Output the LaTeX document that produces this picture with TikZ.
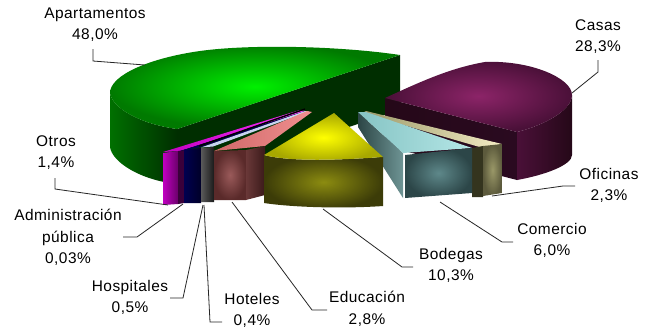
\documentclass[tikz,border=0pt]{standalone}
\usepackage{fontspec}
\setmainfont{Liberation Sans}[LetterSpace=3]
\begin{document}
\begin{tikzpicture}[x=1bp,y=-1bp,
  lbl/.style={font=\fontsize{15.5}{21.5}\selectfont, align=center, inner sep=0pt, text=black},
  lead/.style={line width=0.8bp, draw=black!85},
]
\definecolor{gA}{HTML}{00F000}\definecolor{gB}{HTML}{007A00}
\definecolor{gC}{HTML}{004A00}\definecolor{gD}{HTML}{002E00}\definecolor{gE}{HTML}{007000}
\definecolor{pA}{HTML}{8C2468}\definecolor{pB}{HTML}{4A1038}\definecolor{pC}{HTML}{2A0A20}\definecolor{pD}{HTML}{250818}
\definecolor{yA}{HTML}{FFFF00}\definecolor{yB}{HTML}{A8A800}\definecolor{yC}{HTML}{8C8C10}\definecolor{yD}{HTML}{3C3C08}
\definecolor{tA}{HTML}{2C4646}\definecolor{tB}{HTML}{6E9494}\definecolor{tC}{HTML}{86C4C4}\definecolor{tD}{HTML}{B4E6E6}
\definecolor{tE}{HTML}{5E888A}\definecolor{tF}{HTML}{2C4648}
\definecolor{cA}{HTML}{F4ECC4}\definecolor{cB}{HTML}{9A9868}\definecolor{cC}{HTML}{5C5A3C}\definecolor{cD}{HTML}{34341E}
\definecolor{mA}{HTML}{FF30FF}\definecolor{mB}{HTML}{C000C0}\definecolor{mC}{HTML}{6A006A}\definecolor{mD}{HTML}{3A003A}
\definecolor{nA}{HTML}{000050}\definecolor{nB}{HTML}{000028}
\definecolor{kA}{HTML}{5A5A5A}\definecolor{kB}{HTML}{1A1A1A}\definecolor{kC}{HTML}{C8D4F0}
\definecolor{rA}{HTML}{F09090}\definecolor{rB}{HTML}{D06868}\definecolor{rC}{HTML}{9A5A5A}\definecolor{rD}{HTML}{5A2A2A}
\definecolor{rE}{HTML}{6A3838}\definecolor{rF}{HTML}{3A1A1A}
\useasboundingbox[fill=white] (0,0) rectangle (647,331);

% ---------- Apartamentos (green) ----------
\shade[left color=gD, middle color=gC, right color=gD] (177,129) -- (400,55) -- (400,110) -- (177,184) -- cycle;
\shade[left color=gE, right color=gD] (110,93) .. controls (112,108) and (140,124) .. (177,129) -- (177,184) .. controls (140,180) and (112,162) .. (110,147) -- cycle;
\shade[inner color=gA, outer color=gB] (400,55) .. controls (340,46) and (250,44) .. (200,51) .. controls (150,58) and (110,75) .. (110,93) .. controls (112,108) and (140,124) .. (177,129) -- cycle;

% ---------- Casas (purple) ----------
\shade[left color=pD, right color=pC] (385,98) -- (517,132) -- (517,180) -- (385,146) -- cycle;
\shade[left color=pB, right color=pD] (517,132) .. controls (545,125) and (572,110) .. (572,95) -- (572,155) .. controls (572,165) and (545,175) .. (517,180) -- cycle;
\shade[inner color=pA, outer color=pB] (385,98) .. controls (420,82) and (450,68) .. (485,62) .. controls (530,60) and (572,78) .. (572,95) .. controls (572,110) and (545,125) .. (517,132) -- cycle;

% ---------- Oficinas (cream) ----------
\shade[left color=cB, right color=cA] (366,111) -- (502,144) -- (483,148) -- (362,113) -- cycle;
\fill[cD] (472,148) -- (483,146) -- (483,197) -- (472,197) -- cycle;
\shade[inner color=cB, outer color=cC] (483,146) -- (502,144) -- (502,193) -- (483,196) -- cycle;

% ---------- Comercio (teal) ----------
\shade[left color=tA, right color=tB] (358,112) -- (403,153) -- (403,198) -- (358,127) -- cycle;
\shade[left color=tC, right color=tD] (358,112) -- (403,153) -- (472,148) -- (366,112) -- cycle;
\shade[inner color=tE, outer color=tF] (405,155) -- (472,148) -- (472,193) -- (405,198) -- cycle;

% ---------- small slices ----------
\shade[left color=mB, right color=mA] (163,152) -- (300,110) -- (305,111) -- (180,151) -- cycle;
\shade[left color=mB, right color=mC] (163,153) -- (178,151) -- (178,204) -- (163,205) -- cycle;
\fill[mD] (178,151) -- (184,150) -- (184,203) -- (178,204) -- cycle;
\fill[nA] (180,151) -- (305,111) -- (307,112) -- (201,147) -- cycle;
\shade[left color=nA, right color=nB] (184,150) -- (201,148) -- (201,203) -- (184,203) -- cycle;
\draw[black, line width=1.4bp] (199,146) -- (305,109);
\fill[kC] (201,147.5) -- (305,111) -- (309,111.5) -- (213,146.5) -- cycle;
\shade[left color=kA, right color=kB] (201,148) -- (214,147) -- (214,202) -- (201,202) -- cycle;
\shade[left color=rB, right color=rA] (214,151) -- (265,146) -- (312,112) -- (307,111) -- cycle;
\shade[inner color=rC, outer color=rD] (214,151) -- (246,150) -- (246,200) -- (214,200) -- cycle;
\shade[left color=rE, right color=rF] (246,150) -- (265,146) -- (265,195) -- (246,200) -- cycle;

% ---------- Bodegas (yellow) ----------
\shade[inner color=yC, outer color=yD] (264,155) .. controls (290,162) and (340,160) .. (383,157) -- (383,206) .. controls (340,209) and (290,207) .. (264,203) -- cycle;
\shade[inner color=yA, outer color=yB] (334,113) -- (383,157) .. controls (340,160) and (290,162) .. (264,155) -- cycle;

% ---------- labels ----------
\node[lbl] (apart) at (95,24.5) {Apartamentos\\48,0\%};
\node[lbl] (casas) at (598,36.5) {Casas\\28,3\%};
\node[lbl] (ofic) at (609,185.5) {Oficinas\\2,3\%};
\node[lbl] (comer) at (552,240.5) {Comercio\\6,0\%};
\node[lbl] (bodeg) at (451,265.5) {Bodegas\\10,3\%};
\node[lbl] (educ) at (367,309) {Educación\\2,8\%};
\node[lbl] (hotel) at (252,310.5) {Hoteles\\0,4\%};
\node[lbl] (hosp) at (130,297.5) {Hospitales\\0,5\%};
\node[lbl] (admin) at (68,237.5) {Administración\\pública\\0,03\%};
\node[lbl] (otros) at (56,152.5) {Otros\\1,4\%};

% ---------- leader lines ----------
\coordinate (a1) at (93,49); \coordinate (a2) at (93,61); \coordinate (a3) at (145,65);
\coordinate (c1) at (598,60); \coordinate (c2) at (598,72); \coordinate (c3) at (572,93);
\coordinate (o1) at (575,186); \coordinate (o2) at (563,186); \coordinate (o3) at (492,196);
\coordinate (m1) at (513,242); \coordinate (m2) at (502,242); \coordinate (m3) at (440,202);
\coordinate (b1) at (413,267); \coordinate (b2) at (402,267); \coordinate (b3) at (323,209);
\coordinate (e1) at (327,310); \coordinate (e2) at (312,310); \coordinate (e3) at (232,202);
\coordinate (h1) at (222,322); \coordinate (h2) at (210,322); \coordinate (h3) at (204,205);
\coordinate (s1) at (170,298); \coordinate (s2) at (183,298); \coordinate (s3) at (203,205);
\coordinate (d1) at (123,237); \coordinate (d2) at (137,237); \coordinate (d3) at (183,204);
\coordinate (t1) at (55,178); \coordinate (t2) at (55,189); \coordinate (t3) at (168,205);
\draw[lead] (a1) -- (a2) -- (a3);
\draw[lead] (c1) -- (c2) -- (c3);
\draw[lead] (o1) -- (o2) -- (o3);
\draw[lead] (m1) -- (m2) -- (m3);
\draw[lead] (b1) -- (b2) -- (b3);
\draw[lead] (e1) -- (e2) -- (e3);
\draw[lead] (h1) -- (h2) -- (h3);
\draw[lead] (s1) -- (s2) -- (s3);
\draw[lead] (d1) -- (d2) -- (d3);
\draw[lead] (t1) -- (t2) -- (t3);
\end{tikzpicture}
\end{document}
